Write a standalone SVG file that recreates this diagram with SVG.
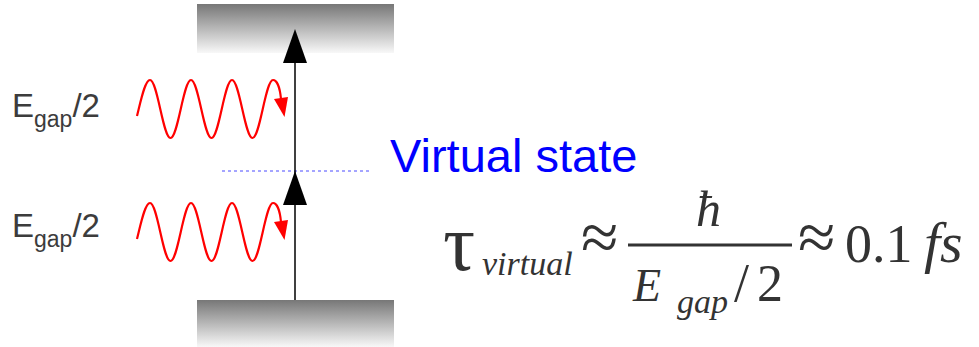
<svg xmlns="http://www.w3.org/2000/svg" width="979" height="347" viewBox="0 0 979 347">
  <defs>
    <linearGradient id="band" x1="0" y1="0" x2="0" y2="1">
      <stop offset="0" stop-color="#777777"/>
      <stop offset="1" stop-color="#f8f8f8"/>
    </linearGradient>
    <g id="photon">
      <path d="M137,116 C141,100 145,80 150,80 C157.5,80 163,138 170.5,138 C178,138 183.5,80 191,80 C198.5,80 204,138 211.5,138 C219,138 224.5,80 232,80 C239.5,80 245,138 252.5,138 C260,138 265.5,80 273,80 C277,80 280,88 281,99" fill="none" stroke="#ff0000" stroke-width="2.2"/>
      <polygon points="274,99 288,97 284.5,117" fill="#ff0000"/>
    </g>
  </defs>
  <style>
    .label { font-family: "Liberation Sans", Arial, sans-serif; fill: #3c3c3c; }
    .eq { font-family: "Liberation Serif", "Times New Roman", serif; fill: #333333; }
    .it { font-style: italic; }
  </style>

  <!-- energy bands -->
  <g id="conduction-band">
    <rect x="197" y="4" width="197" height="49" fill="url(#band)"/>
  </g>
  <g id="valence-band">
    <rect x="197" y="300" width="197" height="47" fill="url(#band)"/>
  </g>

  <!-- virtual level -->
  <g id="virtual-state">
    <line x1="222" y1="171" x2="370" y2="171" stroke="#4a4aff" stroke-width="1" stroke-dasharray="3,3"/>
    <text x="390" y="172" font-family="Liberation Sans, Arial, sans-serif" font-size="47" fill="#0000ff">Virtual state</text>
  </g>

  <!-- transitions -->
  <g id="connectors">
    <line x1="295" y1="55" x2="295" y2="300" stroke="#000" stroke-width="1.5"/>
    <polygon points="295,29 307,63 283,63" fill="#000"/>
    <polygon points="295,171 307,205 283,205" fill="#000"/>
  </g>

  <!-- photons -->
  <g id="photon-upper">
    <use href="#photon"/>
    <text class="label" x="12" y="117" font-size="33">E<tspan font-size="23" dy="10">gap</tspan><tspan dy="-10">/2</tspan></text>
  </g>
  <g id="photon-lower">
    <use href="#photon" transform="translate(0,123)"/>
    <text class="label" x="12" y="237" font-size="33">E<tspan font-size="23" dy="10">gap</tspan><tspan dy="-10">/2</tspan></text>
  </g>

  <!-- lifetime estimate -->
  <g id="lifetime-equation">
    <text class="eq" x="443" y="270" font-size="80">τ</text>
    <text class="eq it" x="482" y="275" font-size="34">virtual</text>
    <text class="eq" x="581" y="260" font-size="68">≈</text>
    <line x1="628" y1="245" x2="792" y2="245" stroke="#333333" stroke-width="3"/>
    <text class="eq it" x="696" y="226" font-size="50">ħ</text>
    <text class="eq it" x="633" y="301" font-size="46">E</text>
    <text class="eq it" x="677" y="313" font-size="34">gap</text>
    <text class="eq" x="734" y="301" font-size="54">/</text>
    <text class="eq" x="757" y="301" font-size="52">2</text>
    <text class="eq" x="798" y="260" font-size="68">≈</text>
    <text class="eq" x="845" y="262" font-size="54">0.1</text>
    <text class="eq it" x="924" y="262" font-size="58">fs</text>
  </g>
</svg>
